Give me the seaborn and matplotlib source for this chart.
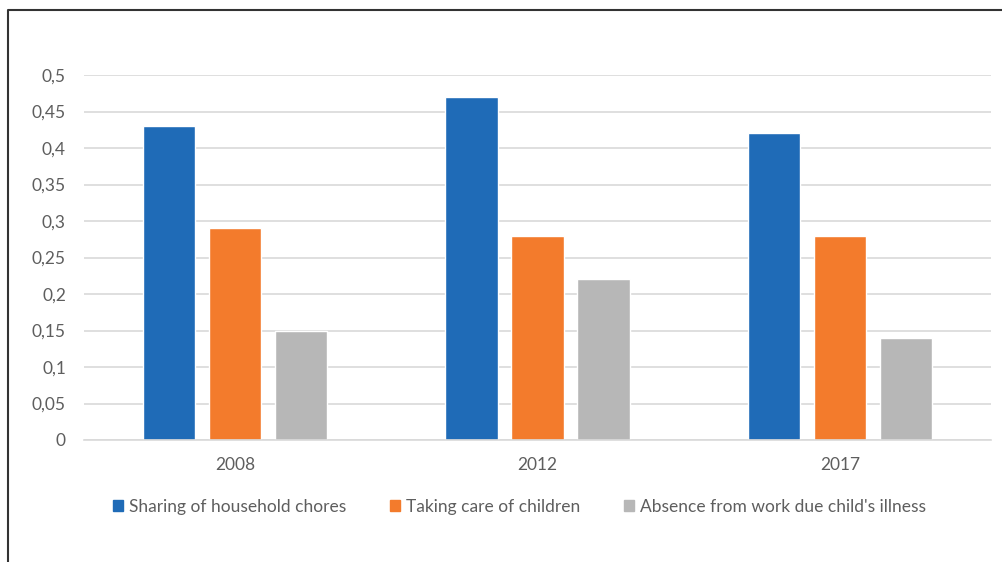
import pandas as pd
import seaborn as sns
import matplotlib.pyplot as plt
from matplotlib.ticker import FuncFormatter, MultipleLocator
from matplotlib.lines import Line2D

years = ["2008", "2012", "2017"]
series = ["Sharing of household chores", "Taking care of children",
          "Absence from work due child's illness"]
chores = [0.43, 0.47, 0.42]
children = [0.29, 0.28, 0.28]
absence = [0.15, 0.22, 0.14]
colors = ["#1F6BB7", "#F37B2C", "#B7B7B7"]

tabela = pd.DataFrame({
    "ano": years * 3,
    "serie": [series[0]] * 3 + [series[1]] * 3 + [series[2]] * 3,
    "valor": chores + children + absence,
})

sns.set_style("white")
plt.rcParams["font.family"] = ["Lato", "DejaVu Sans"]
cinza = "#5E5E5E"

fig = plt.figure(figsize=(10.03, 5.62), dpi=100)
ax = fig.add_axes([84 / 1003, 1 - 440 / 562, (991 - 84) / 1003, (440 - 75) / 562])

sns.barplot(data=tabela, x="ano", y="valor", hue="serie", palette=colors,
            width=0.655, gap=0.21, ax=ax, legend=True, saturation=1)

ax.set_ylim(0, 0.5)
ax.set_xlim(-0.5, 2.5)
ax.yaxis.set_major_locator(MultipleLocator(0.05))
ax.yaxis.set_major_formatter(FuncFormatter(
    lambda v, p: "0" if abs(v) < 1e-9 else f"{v:.2f}".rstrip("0").replace(".", ",")))
ax.grid(axis="y", color="#D9D9D9", linewidth=1.2)
ax.set_axisbelow(True)
for s in ["top", "right", "left"]:
    ax.spines[s].set_visible(False)
ax.spines["bottom"].set_color("#D9D9D9")
ax.spines["bottom"].set_linewidth(1.2)
ax.tick_params(axis="y", length=0, pad=13, labelsize=12.5, labelcolor=cinza)
ax.tick_params(axis="x", length=0, pad=12, labelsize=12.5, labelcolor=cinza)
ax.set_xlabel("")
ax.set_ylabel("")

ax.get_legend().remove()
handles = [plt.Rectangle((0, 0), 1, 1, color=c) for c in colors]
fig.legend(handles, series, loc="center", bbox_to_anchor=(0.518, 1 - 507 / 562),
           ncol=3, frameon=False, fontsize=12.5, labelcolor=cinza,
           handlelength=0.6, handleheight=0.6, handletextpad=0.35, columnspacing=2.5)

# moldura (apenas esquerda e topo visiveis)
fig.add_artist(Line2D([8 / 1003, 8 / 1003, 1.0], [0.0, 1 - 10 / 562, 1 - 10 / 562],
                      transform=fig.transFigure, color="#333333", linewidth=1.5))

fig.savefig("out.png", dpi=100)
